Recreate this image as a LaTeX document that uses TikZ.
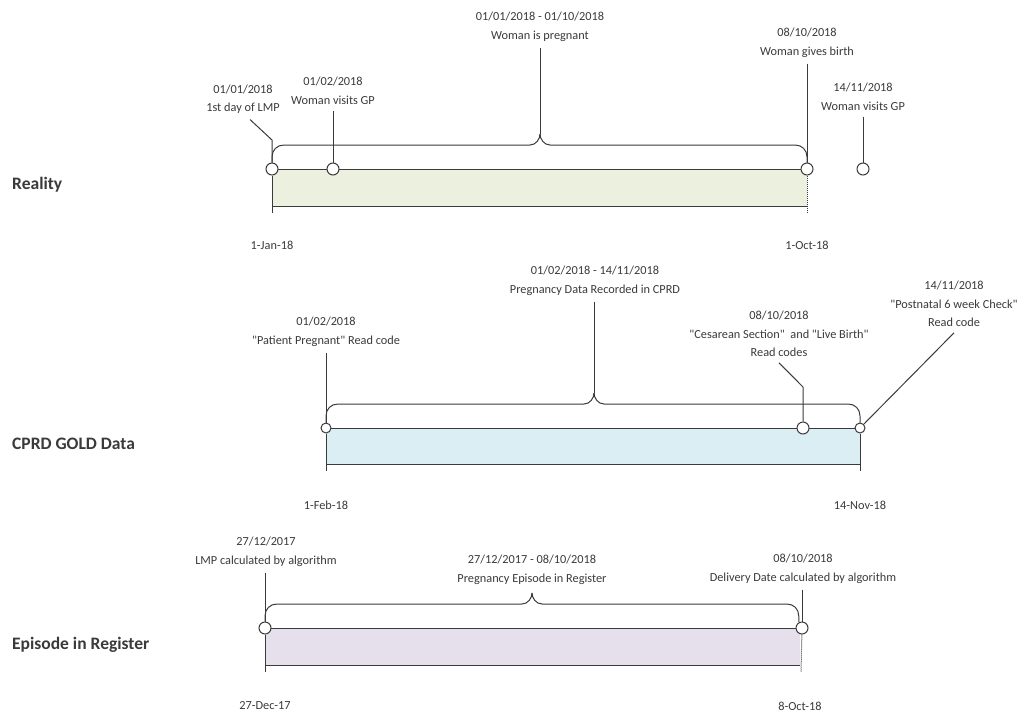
\documentclass[tikz,border=0pt]{standalone}
\usepackage{fontspec}
\setmainfont{Carlito}[Ligatures=TeXOff]
\usetikzlibrary{positioning,calc}
\definecolor{ink}{HTML}{3A3A3A}
\definecolor{realfill}{HTML}{EBF1DE}
\definecolor{cprdfill}{HTML}{DBEEF4}
\definecolor{regfill}{HTML}{E6E0EC}

\begin{document}
\begin{tikzpicture}[x=1pt,y=-1pt]
    \tikzstyle{every node}=[inner sep=0,text=ink]
    \tikzstyle{note}=[align=center,inner sep=1,outer sep=5,font=\fontsize{12.3}{18.5}\selectfont]
    \tikzstyle{tag}=[note,outer sep=0]
    \tikzstyle{row}=[anchor=west,font=\fontsize{17.5}{21}\selectfont\bfseries]
    \tikzstyle{link}=[draw=ink,line width=1]
    \tikzstyle{event}=[draw=ink,line width=1,fill=white,circle,minimum size=12]
    \tikzstyle{smallevent}=[event,minimum size=10]
    \tikzstyle{brace}=[link]

    \useasboundingbox (0,0) rectangle (1024,715);

    % reality
    \fill[realfill] (272,169) rectangle (807,206);
    \draw[link] (272,169) -- (807,169) (272,206) -- (807,206);

    \node[row] (reality) at (12,185) {Reality};
    \node[event] (r0) at (272,169) {};
    \node[event] (r1) at (333,169) {};
    \node[event] (r2) at (807,169) {};
    \node[event] (r3) at (863,169) {};
    \coordinate (r0k) at (272,140);
    \coordinate (r0b) at (272,213);
    \coordinate (r2b) at (807,213);
    \coordinate (rtip) at (540,134);
    \coordinate (rka) at ($(r0.north |- rtip)+(0,11)$);
    \coordinate (rkb) at ($(r2.north |- rtip)+(0,11)$);

    \node[note] (rspan) at (540,27) {01/01/2018 - 01/10/2018\\Woman is pregnant};
    \node[note] (rlmp) at (243,99) {01/01/2018\\1st day of LMP};
    \node[note] (rgp) at (333,91) {01/02/2018\\Woman visits GP};
    \node[note] (rbirth) at (807,43) {08/10/2018\\Woman gives birth};
    \node[note] (rgpb) at (863,97) {14/11/2018\\Woman visits GP};
    \node[tag] (rjan) at (272,245) {1-Jan-18};
    \node[tag] (roct) at (807,245) {1-Oct-18};

    \draw[link] ([xshift=7]rlmp.south) -- (r0k) -- (r0);
    \draw[link] (r0) -- (r0b);
    \draw[link,densely dotted] (r2) -- (r2b);
    \draw[link] (rgp.south -| r1) -- (r1);
    \draw[link] (rbirth.south -| r2) -- (r2);
    \draw[link] (rgpb.south -| r3) -- (r3);
    \draw[link] (rspan.south -| rtip) -- (rtip);
    \draw[brace] (r0.north) -- ([shift={(0,12)}]rka)
        .. controls ([shift={(0,5)}]rka) and ([shift={(5,0)}]rka) .. ([shift={(12,0)}]rka)
        -- ([shift={(-10,11)}]rtip)
        .. controls ([shift={(-4,11)}]rtip) and ([shift={(0,5)}]rtip) .. (rtip);
    \draw[brace] (r2.north) -- ([shift={(0,12)}]rkb)
        .. controls ([shift={(0,5)}]rkb) and ([shift={(-5,0)}]rkb) .. ([shift={(-12,0)}]rkb)
        -- ([shift={(10,11)}]rtip)
        .. controls ([shift={(4,11)}]rtip) and ([shift={(0,5)}]rtip) .. (rtip);

    % cprd
    \fill[cprdfill] (326,428) rectangle (860,464);
    \draw[link] (326,428) -- (860,428) (326,464) -- (860,464);

    \node[row] (cprd) at (12,444) {CPRD GOLD Data};
    \node[smallevent] (c0) at (326,428) {};
    \node[event] (c1) at (803,428) {};
    \node[smallevent] (c2) at (860,428) {};
    \coordinate (c0b) at (326,471);
    \coordinate (c2b) at (860,471);
    \coordinate (c1k) at (803,387);
    \coordinate (ctip) at (594,393);
    \coordinate (cka) at ($(c0.north |- ctip)+(0,11)$);
    \coordinate (ckb) at ($(c2.north |- ctip)+(0,11)$);

    \node[note] (cspan) at (595,281) {01/02/2018 - 14/11/2018\\Pregnancy Data Recorded in CPRD};
    \node[note] (cpreg) at (326,332) {01/02/2018\\"Patient Pregnant" Read code};
    \node[note] (ccs) at (779,334) {08/10/2018\\"Cesarean Section"\ \ and "Live Birth"\\Read codes};
    \node[note] (cpn) at (954,304) {14/11/2018\\"Postnatal 6 week Check"\\Read code};
    \node[tag] (cfeb) at (326,505) {1-Feb-18};
    \node[tag] (cnov) at (860,505) {14-Nov-18};

    \draw[link] (cpreg.south -| c0) -- (c0);
    \draw[link] (c0) -- (c0b);
    \draw[link] (c2) -- (c2b);
    \draw[link] (ccs.south) -- (c1k) -- (c1);
    \draw[link] (cpn.south) -- (c2);
    \draw[link] (cspan.south -| ctip) -- (ctip);
    \draw[brace] (c0.north) -- ([shift={(0,12)}]cka)
        .. controls ([shift={(0,5)}]cka) and ([shift={(5,0)}]cka) .. ([shift={(12,0)}]cka)
        -- ([shift={(-10,11)}]ctip)
        .. controls ([shift={(-4,11)}]ctip) and ([shift={(0,5)}]ctip) .. (ctip);
    \draw[brace] (c2.north) -- ([shift={(0,12)}]ckb)
        .. controls ([shift={(0,5)}]ckb) and ([shift={(-5,0)}]ckb) .. ([shift={(-12,0)}]ckb)
        -- ([shift={(10,11)}]ctip)
        .. controls ([shift={(4,11)}]ctip) and ([shift={(0,5)}]ctip) .. (ctip);

    % register
    \fill[regfill] (265,628) rectangle (800,665);
    \draw[link] (265,628) -- (800,628) (265,665) -- (800,665);

    \node[row] (reg) at (12,645) {Episode in Register};
    \node[event] (e0) at (265,628) {};
    \node[event] (e1) at (802,628) {};
    \coordinate (e0b) at (265,672);
    \coordinate (e1b) at (801,672);
    \coordinate (etip) at (532,593);
    \coordinate (eka) at ($(e0.north |- etip)+(0,11)$);
    \coordinate (ekb) at ($(e1.120 |- etip)+(0,11)$);

    \node[note] (espan) at (532,570) {27/12/2017 - 08/10/2018\\Pregnancy Episode in Register};
    \node[note] (elmp) at (266,552) {27/12/2017\\LMP calculated by algorithm};
    \node[note] (edd) at (803,569) {08/10/2018\\Delivery Date calculated by algorithm};
    \node[tag] (edec) at (265,706) {27-Dec-17};
    \node[tag] (eoct) at (800,706) {8-Oct-18};

    \draw[link] (elmp.south -| e0) -- (e0);
    \draw[link] (e0) -- (e0b);
    \draw[link,densely dotted] (e1) -- (e1b);
    \draw[link] (edd.south -| e1) -- (e1);
    \draw[brace] (e0.north) -- ([shift={(0,12)}]eka)
        .. controls ([shift={(0,5)}]eka) and ([shift={(5,0)}]eka) .. ([shift={(12,0)}]eka)
        -- ([shift={(-10,11)}]etip)
        .. controls ([shift={(-4,11)}]etip) and ([shift={(0,5)}]etip) .. (etip);
    \draw[brace] (e1.120) -- ([shift={(0,12)}]ekb)
        .. controls ([shift={(0,5)}]ekb) and ([shift={(-5,0)}]ekb) .. ([shift={(-12,0)}]ekb)
        -- ([shift={(10,11)}]etip)
        .. controls ([shift={(4,11)}]etip) and ([shift={(0,5)}]etip) .. (etip);
\end{tikzpicture}
\end{document}
